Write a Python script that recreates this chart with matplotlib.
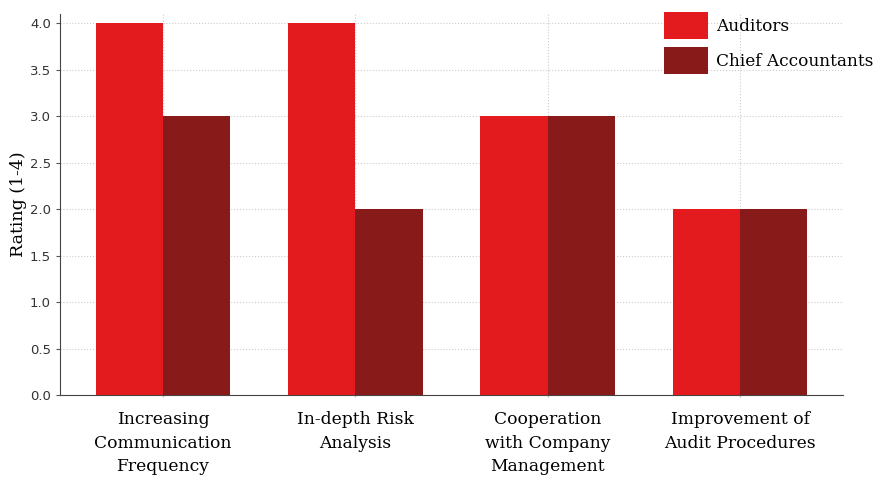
import matplotlib
matplotlib.use("Agg")
import matplotlib.pyplot as plt
import numpy as np

categories = [
    "Increasing\nCommunication\nFrequency",
    "In-depth Risk\nAnalysis",
    "Cooperation\nwith Company\nManagement",
    "Improvement of\nAudit Procedures",
]
auditors = [4, 4, 3, 2]
chief_accountants = [3, 2, 3, 2]
series_names = ["Auditors", "Chief Accountants"]
colors = ["#E41B1E", "#891A1A"]

serif = ["DejaVu Serif"]

fig = plt.figure(figsize=(8.75, 4.8), dpi=100)
ax = fig.add_axes([0.0686, 0.177, 0.8948, 0.794])

x = np.arange(len(categories))
w = 0.35
ax.bar(x - w / 2, auditors, w, color=colors[0], label=series_names[0], zorder=3)
ax.bar(x + w / 2, chief_accountants, w, color=colors[1], label=series_names[1], zorder=3)

ax.set_ylim(0, 4.1)
ax.set_yticks(np.arange(0, 4.01, 0.5))
ax.set_xticks(x)
ax.set_xticklabels(categories, family=serif, fontsize=12.3, linespacing=1.5)
ax.tick_params(axis="x", length=1.5, pad=10, color="#bbbbbb")
ax.tick_params(axis="y", labelsize=9.5, length=3, color="#555555", labelcolor="#333333")
ax.set_ylabel("Rating (1-4)", family=serif, fontsize=12.5, labelpad=2)

ax.grid(True, linestyle=":", color="#cccccc", linewidth=0.8, zorder=0)
for s in ["top", "right"]:
    ax.spines[s].set_visible(False)
for s in ["left", "bottom"]:
    ax.spines[s].set_color("#444444")

fig.legend(loc="upper left", bbox_to_anchor=(0.759, 0.975), frameon=False,
           prop={"family": serif, "size": 12.2}, handlelength=2.6, handleheight=2.05,
           handletextpad=0.45, labelspacing=0.5, borderaxespad=0,
           borderpad=0)

fig.savefig("out.png", dpi=100)
